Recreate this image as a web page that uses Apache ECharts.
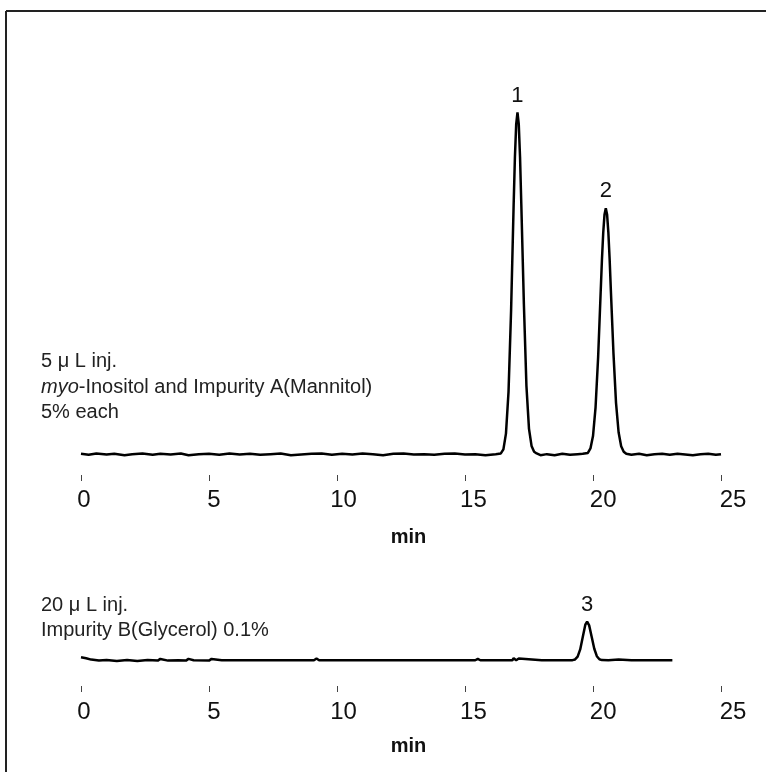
<!DOCTYPE html>
<html>
<head>
<meta charset="utf-8">
<script src="https://cdn.jsdelivr.net/npm/echarts@6/dist/echarts.min.js"></script>
<style>
html,body{margin:0;padding:0;background:#fff;}
#c{width:766px;height:772px;}
</style>
</head>
<body>
<div id="c"></div>
<script>
// ---- data ----
const tickLabels = ['0','5','10','15','20','25'];
const axisName = 'min';

const topTime = [0,0.3,0.6,1.0,1.3,1.7,2.0,2.4,2.8,3.1,3.5,3.9,4.2,4.6,5.0,5.4,5.8,6.2,6.6,7.0,
  7.4,7.8,8.2,8.6,9.0,9.4,9.8,10.2,10.6,11.0,11.4,11.8,12.2,12.6,13.0,13.4,13.8,14.2,14.6,15.0,
  15.4,15.8,16.2,16.4,
  16.5,16.6,16.7,16.8,16.9,16.95,17.0,17.05,17.1,17.15,17.2,17.3,17.4,17.5,17.6,17.7,17.8,17.95,
  18.2,18.5,18.8,19.1,19.4,19.6,
  19.8,19.9,20.0,20.1,20.2,20.3,20.35,20.4,20.45,20.5,20.55,20.6,20.65,20.7,20.8,20.9,21.0,21.1,21.2,21.3,
  21.5,21.8,22.1,22.4,22.7,23.0,23.3,23.6,23.9,24.2,24.5,24.8,25.0];
const topSignal = [0.2,-0.1,0.3,0,0.2,-0.2,0.1,0.3,-0.1,0.2,0,0.3,-0.2,0.1,0.2,-0.1,0.3,0,0.2,-0.1,
  0.1,0.3,-0.2,0,0.2,0.3,-0.1,0.2,0,0.3,0.1,-0.2,0.2,0.3,0,0.1,-0.1,0.2,0.3,0,
  0.1,-0.2,0.1,0.3,
  1.5,6.1,18.3,42,73,87,96.6,100,96.6,87,73,44,20,7.5,2.5,0.8,0.3,-0.2,
  0.1,-0.2,0.2,-0.1,0.1,0.2,
  0.45,1.75,5.4,13.8,28.4,47.6,57.1,64.9,70.2,72,70.2,64.9,57.1,47.6,29.5,15,6.5,2.4,0.8,0.2,
  -0.1,0.2,-0.2,0.1,0.2,-0.1,0.2,0,-0.2,0.1,0.2,-0.1,0.1];

const bottomTime = [0,0.2,0.4,0.7,1.0,1.4,1.8,2.2,2.6,3.0,3.1,3.4,3.8,4.1,4.2,4.4,5.0,5.1,5.5,6.5,
  7.5,8.5,9.1,9.2,9.3,10.5,11.5,12.5,13.5,14.5,15.4,15.5,15.6,16.5,16.85,16.9,17.0,17.1,17.15,18.0,
  18.6,19.0,19.2,19.3,19.4,19.5,19.6,19.7,19.77,19.85,19.95,20.05,20.15,20.25,20.35,20.6,21.0,21.5,22.0,22.5,23.1];
const bottomSignal = [0.9,0.6,0.2,-0.1,0.1,-0.2,0.1,-0.2,0.1,-0.1,0.4,-0.1,0,-0.1,0.4,0,-0.1,0.4,0,0,
  0,0,0,0.5,0,0,0,0,0,0,0,0.4,0,0,0,0.6,0,0.5,0,0,
  0,0,0.04,0.25,1.07,3.2,6.9,10.5,11.4,10.3,6.9,3.4,1.2,0.3,0.05,0,0.2,0,0,0,0];

const peakNames = ['1','2','3'];
const peakTimes = [17.05, 20.5, 19.77];
const peakHeights = [100, 72, 11.4];

const topNotes = ['5 μ L inj.', '{i|myo}-Inositol and Impurity A(Mannitol)', '5% each'];
const bottomNotes = ['20 μ L inj.', 'Impurity B(Glycerol) 0.1%'];

// ---- chart ----
const FONT = '"Liberation Sans", Arial, sans-serif';
const pair = (ts, vs) => ts.map((t, i) => [t, vs[i]]);

function dataAxis(g) {
  return {
    type: 'value', gridIndex: g, min: 0, max: 25, interval: 5,
    axisLine: {show: false, onZero: false},
    axisTick: {show: true, length: 6, lineStyle: {color: '#444', width: 1}},
    axisLabel: {show: false}, splitLine: {show: false}
  };
}
function labelAxis(g, margin, gap) {
  return {
    type: 'value', gridIndex: g, min: 0, max: 25, interval: 5,
    axisLine: {show: false, onZero: false}, axisTick: {show: false}, splitLine: {show: false},
    axisLabel: {show: true, margin: margin, fontSize: 24, color: '#111', fontFamily: FONT,
      formatter: v => tickLabels[Math.round(v / 5)]},
    name: axisName, nameLocation: 'middle', nameGap: gap,
    nameTextStyle: {fontSize: 20, fontWeight: 'bold', color: '#111', fontFamily: FONT}
  };
}
function hiddenY(g, mn, mx) {
  return {type: 'value', gridIndex: g, min: mn, max: mx, show: false};
}
function peakMark(idx) {
  return {
    symbol: 'circle', symbolSize: 2,
    itemStyle: {color: 'transparent'},
    label: {show: true, position: 'top', distance: 5, fontSize: 22, color: '#111', fontFamily: FONT,
      formatter: p => p.name},
    data: idx.map(i => ({name: peakNames[i], coord: [peakTimes[i], peakHeights[i]]}))
  };
}

function noteText(x, y, txt) {
  return {
    type: 'text', x: x, y: y,
    style: {text: txt, fontSize: 20, fontFamily: FONT, fill: '#222', verticalAlign: 'middle',
      rich: {i: {fontStyle: 'italic', fontSize: 20, fontFamily: FONT, fill: '#222'}}}
  };
}

const chart = echarts.init(document.getElementById('c'), null, {renderer: 'canvas'});
chart.setOption({
  animation: false,
  backgroundColor: '#fff',
  grid: [
    {left: 81, right: 45, top: 95.4, bottom: 297},
    {left: 81, right: 45, top: 600, bottom: 86},
    {left: 84, right: 33, top: 95.4, bottom: 297},
    {left: 84, right: 33, top: 600, bottom: 86}
  ],
  xAxis: [dataAxis(0), dataAxis(1), labelAxis(2, 13, 52), labelAxis(3, 14, 50)],
  yAxis: [hiddenY(0, -6, 105), hiddenY(1, -7.6, 17.8), hiddenY(2, 0, 1), hiddenY(3, 0, 1)],
  series: [
    {type: 'line', xAxisIndex: 0, yAxisIndex: 0, data: pair(topTime, topSignal),
      showSymbol: false, symbol: 'none', lineStyle: {color: '#000', width: 2.5},
      markPoint: peakMark([0, 1])},
    {type: 'line', xAxisIndex: 1, yAxisIndex: 1, data: pair(bottomTime, bottomSignal),
      showSymbol: false, symbol: 'none', lineStyle: {color: '#000', width: 2.5},
      markPoint: peakMark([2])}
  ],
  graphic: [
    {type: 'line', shape: {x1: 6, y1: 11, x2: 766, y2: 11}, style: {stroke: '#222', lineWidth: 2}},
    {type: 'line', shape: {x1: 6, y1: 11, x2: 6, y2: 772}, style: {stroke: '#222', lineWidth: 2}},
    noteText(41, 361, topNotes[0]),
    noteText(41, 387, topNotes[1]),
    noteText(41, 412, topNotes[2]),
    noteText(41, 605, bottomNotes[0]),
    noteText(41, 630, bottomNotes[1])
  ]
});
</script>
</body>
</html>
